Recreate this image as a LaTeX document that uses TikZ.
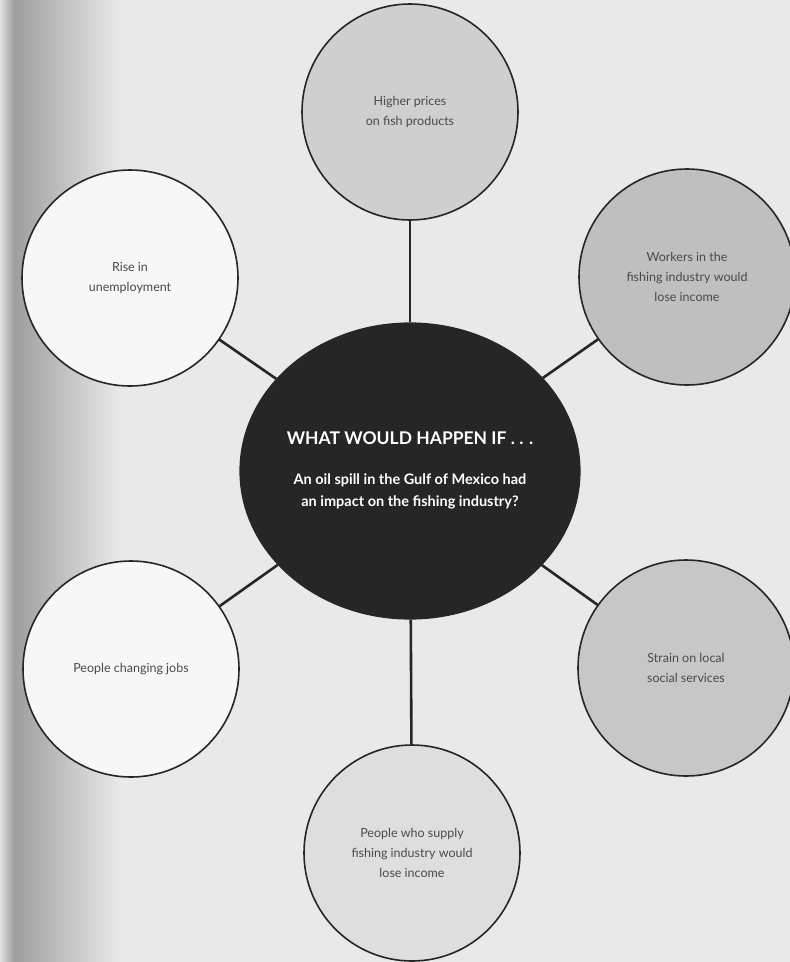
\documentclass[tikz,border=0pt]{standalone}
\usepackage{fontspec}
\setmainfont{Lato}
\usetikzlibrary{shapes.geometric}
\definecolor{bg}{HTML}{E9E9E9}
\definecolor{txt}{HTML}{4A4A4A}
\tikzset{
  bubble/.style={circle, draw=black!85, line width=1.6pt, minimum size=216pt, inner sep=0pt,
    align=center, text=txt, font=\fontsize{12.5}{20}\selectfont},
  link/.style={draw=black!85, line width=2.6pt},
}
\begin{document}
\begin{tikzpicture}[x=1pt,y=-1pt]
\useasboundingbox (0,0) rectangle (790,962);
\fill[bg] (0,0) rectangle (790,962);
\fill[left color=black!12, right color=black!38] (0,0) rectangle (14,962);
\fill[left color=black!38, right color=bg] (14,0) rectangle (120,962);
% central
\node[ellipse, draw=black!85, line width=1.2pt, fill=black!85, minimum width=340pt, minimum height=296pt,
  inner sep=0pt] (c) at (410,471) {};
% bubbles
\node[bubble, fill=black!19] (t)  at (410,112) {Higher prices\\on fish products};
\node[bubble, fill=black!25] (tr) at (687,277) {Workers in the\\fishing industry would\\lose income};
\node[bubble, fill=black!3]  (tl) at (130,278) {Rise in\\unemployment};
\node[bubble, fill=black!3]  (bl) at (131,669) {People changing jobs};
\node[bubble, fill=black!22] (br) at (686,668) {Strain on local\\social services};
\node[bubble, fill=black!13] (b)  at (412,853) {People who supply\\fishing industry would\\lose income};
% links
\foreach \n in {t,tr,tl,bl,br,b}{\draw[link] (c) -- (\n);}
% central text
\node[text=white, font=\bfseries\fontsize{17.5}{20}\selectfont] (ct) at (410,438) {WHAT WOULD HAPPEN IF . . .};
\node[text=white, font=\bfseries\fontsize{14.5}{22}\selectfont, align=center] (cs) at (410,491)
  {An oil spill in the Gulf of Mexico had\\an impact on the fishing industry?};
\end{tikzpicture}
\end{document}
